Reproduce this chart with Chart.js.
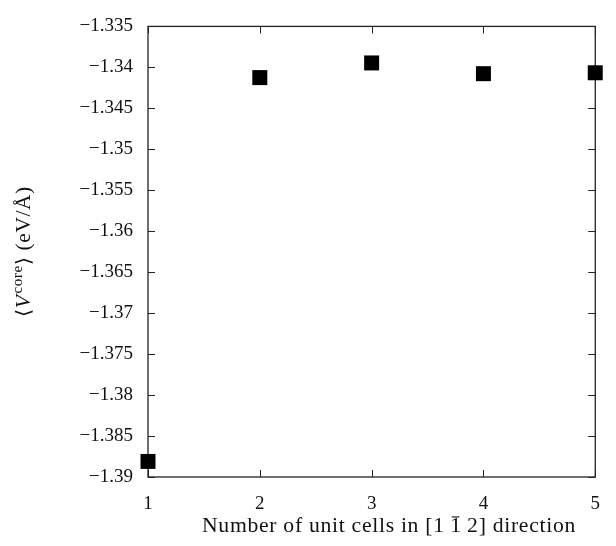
<!DOCTYPE html>
<html>
<head>
<meta charset="utf-8">
<script src="https://cdn.jsdelivr.net/npm/chart.js@4.4.0/dist/chart.umd.min.js"></script>
<style>
  html, body { margin: 0; padding: 0; background: #fff; }
  #wrap { width: 616px; height: 546px; }
</style>
</head>
<body>
<div id="wrap"><canvas id="c" width="616" height="546"></canvas></div>
<script>
// number of unit cells along [1 -1 2] and averaged core potential (eV/Å)
const cells = [1, 2, 3, 4, 5]
const vCore = [-1.3881, -1.34125, -1.33946, -1.34077, -1.34066]

const xTicks = [1, 2, 3, 4, 5]
const yMin = -1.39
const yMax = -1.335
const yStep = 0.005

const FONT = '"Liberation Serif", "DejaVu Serif", serif'
const INK = '#222'
const FS = 19
const TS = 20

const fmtY = v => '\u2212' + Math.abs(v).toFixed(3).replace(/0+$/, '')

// draws a run of text pieces centred on 0, widened to a given total length
// (half by a slight horizontal stretch, half by letter spacing)
function drawRun(ctx, parts, len) {
  let total = 0, chars = 0
  ctx.letterSpacing = '0px'
  parts.forEach(p => {
    ctx.font = p.f
    p.g = ctx.measureText(p.t).width
    p.w = p.g + (p.gap || 0)
    total += p.w
    chars += p.t.length
  })
  const extra = Math.max(0, len - total)
  const k = (total + extra / 2) / total
  const sp = extra / 2 / chars / k
  ctx.scale(k, 1)
  ctx.letterSpacing = sp.toFixed(2) + 'px'
  let px = -len / 2 / k
  parts.forEach(p => {
    ctx.font = p.f
    ctx.fillText(p.t, px, p.dy || 0)
    if (p.bar) ctx.fillRect(px + 1.5, -TS * 0.78, p.g - 3, 1.1)
    px += p.w + sp * p.t.length
  })
  ctx.letterSpacing = '0px'
}

// frame, inward ticks and the two axis titles
const framePlugin = {
  id: 'frame',
  beforeDatasetsDraw(chart) {
    const { ctx, chartArea: a, scales } = chart
    ctx.save()
    ctx.strokeStyle = INK
    ctx.lineWidth = 1.3
    ctx.strokeRect(a.left, a.top, a.right - a.left, a.bottom - a.top)
    ctx.lineWidth = 1
    const tl = 7
    scales.y.ticks.forEach(t => {
      const y = Math.round(scales.y.getPixelForValue(t.value)) + 0.5
      ctx.beginPath()
      ctx.moveTo(a.left, y); ctx.lineTo(a.left + tl, y)
      ctx.moveTo(a.right, y); ctx.lineTo(a.right - tl, y)
      ctx.stroke()
    })
    scales.x.ticks.forEach(t => {
      const x = Math.round(scales.x.getPixelForValue(t.value)) + 0.5
      ctx.beginPath()
      ctx.moveTo(x, a.bottom); ctx.lineTo(x, a.bottom - tl)
      ctx.moveTo(x, a.top); ctx.lineTo(x, a.top + tl)
      ctx.stroke()
    })
    ctx.restore()
  },
  afterDraw(chart) {
    const { ctx, chartArea: a } = chart
    const norm = TS + 'px ' + FONT
    ctx.save()
    ctx.fillStyle = '#111'
    ctx.textBaseline = 'alphabetic'
    ctx.textAlign = 'left'

    // x title: Number of unit cells in [1 1̄ 2] direction
    ctx.save()
    ctx.translate(389, 532)
    drawRun(ctx, [
      { t: 'Number of unit cells in [1', f: norm, gap: 5 },
      { t: '1', f: norm, bar: true, gap: 5 },
      { t: '2] direction', f: norm }
    ], 374)
    ctx.restore()

    // y title: <V^core> (eV/Å), rotated
    ctx.save()
    ctx.translate(30, (a.top + a.bottom) / 2)
    ctx.rotate(-Math.PI / 2)
    drawRun(ctx, [
      { t: '\u27E8', f: norm },
      { t: 'V', f: 'italic ' + norm, gap: 1 },
      { t: 'core', f: '14px ' + FONT, dy: -8 },
      { t: '\u27E9 (eV/\u00C5)', f: norm }
    ], 131)
    ctx.restore()

    ctx.restore()
  }
}

new Chart(document.getElementById('c'), {
  type: 'scatter',
  data: {
    datasets: [{
      data: cells.map((c, i) => ({ x: c, y: vCore[i] })),
      pointStyle: 'rect',
      pointRadius: 10.6,
      pointHoverRadius: 10.6,
      backgroundColor: '#000',
      borderColor: '#000',
      borderWidth: 0,
      clip: false
    }]
  },
  options: {
    responsive: false,
    animation: false,
    events: [],
    layout: { padding: { top: 15, right: 6, left: 0, bottom: 0 } },
    plugins: { legend: { display: false }, tooltip: { enabled: false } },
    scales: {
      x: {
        type: 'linear',
        min: 1,
        max: 5,
        afterBuildTicks: s => { s.ticks = xTicks.map(v => ({ value: v })) },
        afterFit: s => { s.height = 69 },
        grid: { display: false, drawTicks: false },
        border: { display: false },
        ticks: { color: '#111', padding: 16, font: { family: FONT, size: FS }, callback: v => String(v) }
      },
      y: {
        type: 'linear',
        min: yMin,
        max: yMax,
        afterFit: s => { s.width = 148 },
        grid: { display: false, drawTicks: false },
        border: { display: false },
        ticks: { color: '#111', padding: 15, stepSize: yStep, font: { family: FONT, size: FS }, callback: v => fmtY(v) }
      }
    }
  },
  plugins: [framePlugin]
})
</script>
</body>
</html>
